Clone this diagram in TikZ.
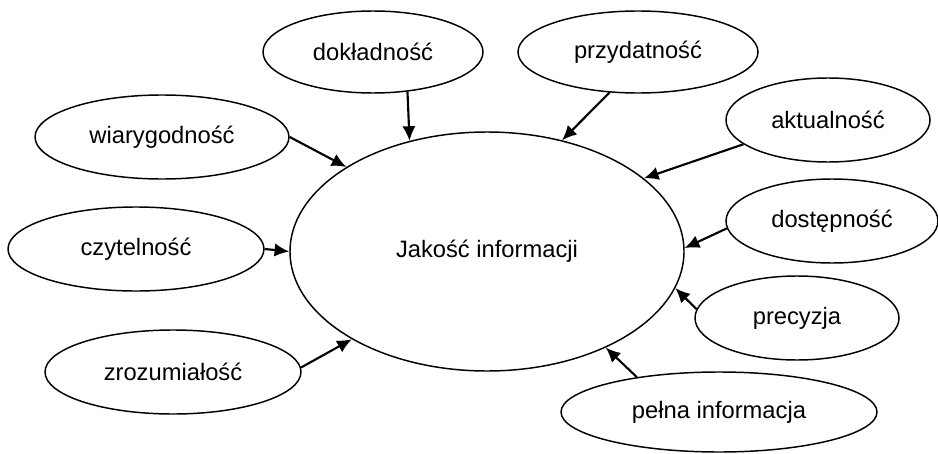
\documentclass[tikz,border=0pt]{standalone}
\usepackage{fontspec}
\setmainfont{Liberation Sans}
\usetikzlibrary{arrows.meta,shapes.geometric}

\begin{document}
\begin{tikzpicture}[x=0.75pt,y=0.75pt,
    font=\fontsize{17.8pt}{21pt}\selectfont]
        \tikzstyle{cecha}
	  =[draw, ellipse, line width=1.1pt, inner sep=0pt,
	  minimum width=192pt, minimum height=63pt]
        \tikzstyle{strz}
	  =[line width=1.6pt, -{Latex[length=11pt,width=10pt]}]

	\useasboundingbox (0,0) rectangle (938,-453);

	\node[cecha, minimum width=295.5pt, minimum height=179.25pt] (jakosc)
	  at (487,-251.5) {Jakość informacji};

	\node[cecha, minimum width=165pt, minimum height=61.5pt] (dokl)
	  at (373,-52) {dokładność};
	\node[cecha, minimum width=180pt, minimum height=61.5pt] (przyd)
	  at (638,-52) {przydatność};
	\node[cecha, minimum width=153pt] (aktual)
	  at (828,-120) {aktualność};
	\node[cecha, minimum width=159pt] (dost)
	  at (832,-221) {dostępność};
	\node[cecha, minimum width=153pt] (prec)
	  at (797,-318) {precyzja};
	\node[cecha, minimum width=237pt, minimum height=60pt] (pelna)
	  at (719,-412) {pełna informacja};
	\node[cecha] (zroz)
	  at (173,-372) {zrozumiałość};
	\node[cecha] (czyt)
	  at (136,-249) {czytelność};
	\node[cecha, minimum width=190.5pt] (wiar)
	  at (162,-137) {wiarygodność};

	% strzalki do srodka
	\draw[strz] (dokl.-49.5) -- (jakosc.125.3);
	\draw[strz] (przyd.-125.8) -- (jakosc.56.1);
	\draw[strz] (aktual.-164.9) -- (jakosc.25);
	\draw[strz] (dost.-176.8) -- (jakosc.1.9);
	\draw[strz] (prec.175.4) -- (jakosc.-11.1);
	\draw[strz] (pelna.157.3) -- (jakosc.-39.9);
	\draw[strz] (zroz.2.7) -- (jakosc.-147.4);
	\draw[strz] (czyt.-0.9) -- (jakosc.180);
	\draw[strz] (wiar.0) -- (jakosc.149.9);
    \end{tikzpicture}
\end{document}
